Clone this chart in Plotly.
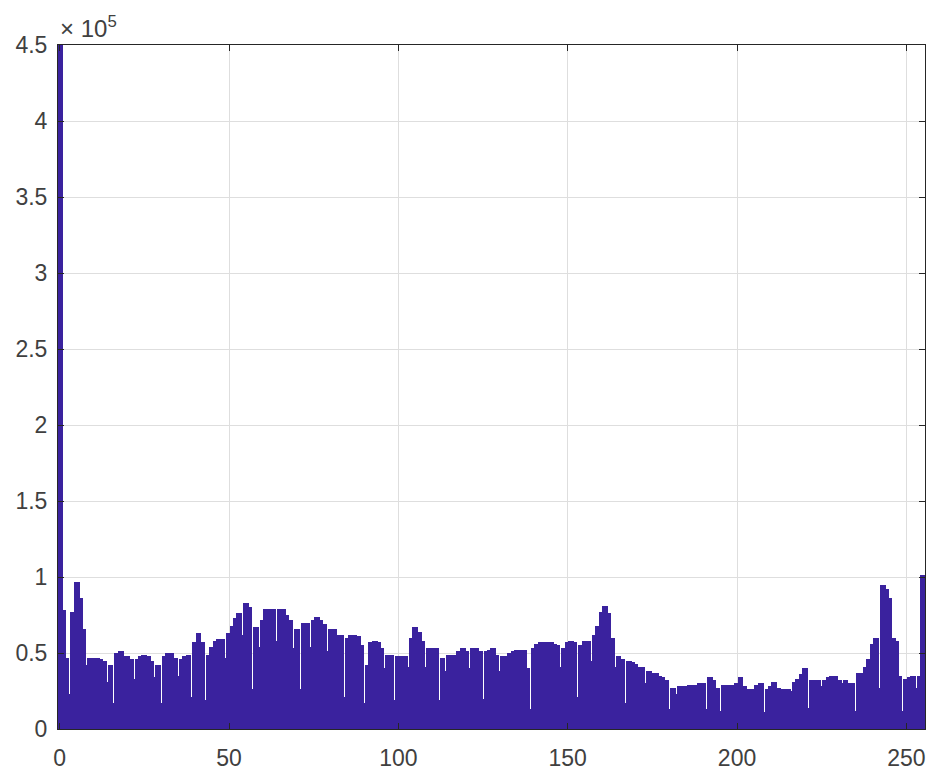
import plotly.graph_objects as go

# Grey-level histogram: pixel counts for intensity levels 0..255 (in thousands)
levels = list(range(256))
counts_k = [
    462, 78, 47, 23, 77, 97, 86, 66, 42, 47, 47, 47, 46, 45, 31, 42,
    17, 50, 51, 48, 48, 46, 33, 46, 48, 49, 48, 45, 34, 42, 17, 48,
    50, 50, 47, 35, 46, 48, 49, 21, 57, 63, 57, 19, 49, 54, 58, 59,
    59, 47, 63, 68, 73, 76, 62, 83, 80, 26, 67, 54, 72, 79, 79, 79,
    58, 79, 79, 75, 72, 53, 66, 26, 70, 70, 54, 72, 74, 72, 69, 51,
    66, 66, 62, 62, 21, 60, 62, 62, 61, 55, 17, 42, 57, 58, 57, 53,
    40, 49, 49, 19, 48, 48, 48, 41, 60, 67, 64, 58, 41, 53, 53, 53,
    19, 47, 38, 49, 49, 49, 51, 53, 51, 40, 53, 53, 51, 20, 51, 52,
    53, 49, 38, 48, 48, 50, 51, 52, 52, 52, 40, 13, 53, 56, 57, 57,
    57, 57, 56, 55, 41, 53, 57, 58, 57, 21, 55, 58, 58, 45, 62, 68,
    77, 81, 76, 60, 41, 48, 46, 17, 45, 44, 43, 41, 41, 30, 38, 37,
    37, 35, 34, 32, 13, 27, 23, 28, 28, 28, 29, 29, 29, 30, 30, 13,
    34, 32, 27, 12, 29, 29, 29, 29, 30, 34, 28, 26, 26, 26, 29, 30,
    11, 26, 28, 31, 27, 26, 26, 26, 25, 31, 33, 36, 40, 14, 32, 32,
    32, 28, 32, 34, 35, 35, 32, 30, 32, 30, 30, 12, 37, 37, 41, 46,
    56, 60, 27, 95, 92, 86, 60, 58, 35, 12, 33, 34, 35, 27, 35, 101,
]
counts = [c * 1000 for c in counts_k]

x_ticks = [0, 50, 100, 150, 200, 250]
y_ticks = [0, 50000, 100000, 150000, 200000, 250000, 300000, 350000, 400000, 450000]
y_tick_text = ["0", "0.5", "1", "1.5", "2", "2.5", "3", "3.5", "4", "4.5"]

bar_color = "rgb(58,34,158)"
axis_color = "#262626"
grid_color = "#dedede"
label_font = dict(family="Liberation Sans, Arial, sans-serif", size=23, color="#404040")

fig = go.Figure(
    go.Bar(
        x=levels,
        y=counts,
        width=1.7,
        marker=dict(color=bar_color, line=dict(width=0)),
        hoverinfo="x+y",
    )
)

axis_common = dict(
    showline=True,
    linecolor=axis_color,
    linewidth=1,
    mirror="ticks",
    ticks="inside",
    ticklen=6,
    tickcolor=axis_color,
    showgrid=True,
    gridcolor=grid_color,
    gridwidth=1,
    zeroline=False,
    automargin=False,
    tickfont=label_font,
)

fig.update_xaxes(
    range=[-0.5, 255.5],
    tickvals=x_ticks,
    ticktext=[str(v) for v in x_ticks],
    ticklabelstandoff=8,
    **axis_common,
)
fig.update_yaxes(
    range=[0, 450000],
    tickvals=y_ticks,
    ticktext=y_tick_text,
    ticklabelstandoff=5,
    **axis_common,
)

# Exponent label for the y-axis tick values
fig.add_annotation(
    text="× 10<sup>5</sup>",
    xref="paper", yref="paper",
    x=0.0, y=1.0,
    xanchor="left", yanchor="bottom",
    showarrow=False,
    font=dict(family="Liberation Sans, Arial, sans-serif", size=24, color="#404040"),
    xshift=0,
    yshift=1,
)

fig.update_layout(
    width=932,
    height=771,
    margin=dict(l=58, r=7, t=45, b=42),
    paper_bgcolor="white",
    plot_bgcolor="white",
    bargap=0,
    barmode="overlay",
    showlegend=False,
)

fig.write_html("out.html")
